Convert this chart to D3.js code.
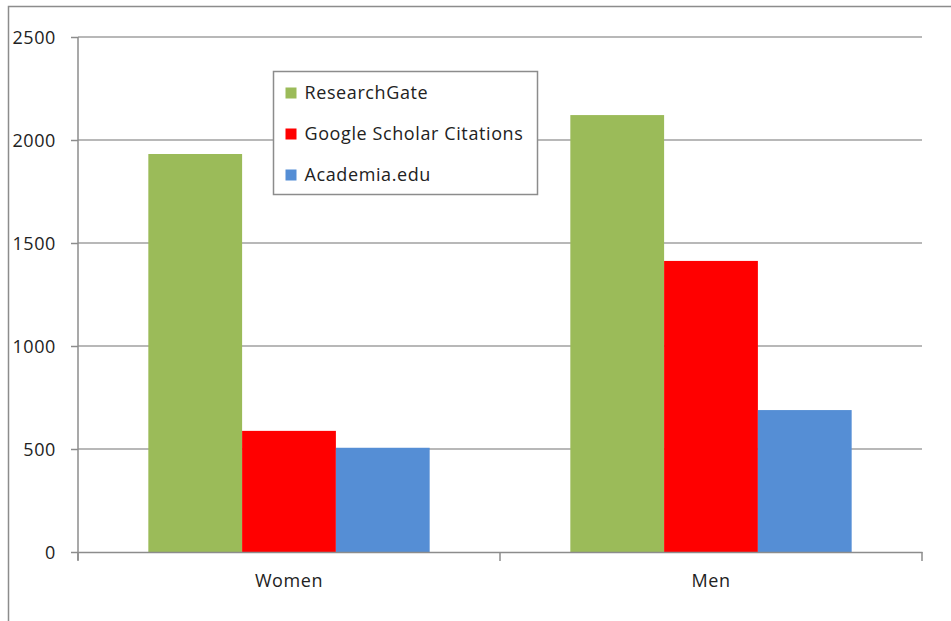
<!DOCTYPE html>
<html>
<head>
<meta charset="utf-8">
<script src="https://cdn.jsdelivr.net/npm/d3@7"></script>
<style>
  body { margin: 0; background: #fff; }
  svg text { font-family: "Open Sans", "DejaVu Sans", sans-serif; fill: #222; letter-spacing: 0.6px; }
</style>
</head>
<body>
<div id="chart"></div>
<script>
const categories = ['Women', 'Men'];
const seriesNames = ['ResearchGate', 'Google Scholar Citations', 'Academia.edu'];
const researchGate = [1932, 2121];
const googleScholar = [588, 1413];
const academia = [506, 689];
const yTicks = [0, 500, 1000, 1500, 2000, 2500];
const colors = ['#9bbb59', '#ff0000', '#558ed5'];

function drawChart() {
    const width = 951, height = 621;
    const margin = { top: 37, right: 29, bottom: 69, left: 78 };
    const values = [researchGate, googleScholar, academia];

    const svg = d3.select('#chart')
        .append('svg')
        .attr('width', width)
        .attr('height', height);

    // outer frame (only left and top edges visible in the crop)
    svg.append('path')
        .attr('d', `M8.5,${height}V6.5H${width}`)
        .attr('fill', 'none')
        .attr('stroke', '#8c8c8c')
        .attr('stroke-width', 1.5);

    const x = d3.scaleBand()
        .domain(categories)
        .range([margin.left, width - margin.right]);

    const y = d3.scaleLinear()
        .domain([0, 2500])
        .range([height - margin.bottom, margin.top]);

    const inner = d3.scaleBand()
        .domain(seriesNames)
        .range([0, x.bandwidth()])
        .paddingOuter(0.75);

    // gridlines
    svg.append('g')
        .selectAll('line')
        .data(yTicks.filter(d => d > 0))
        .enter()
        .append('line')
        .attr('x1', margin.left)
        .attr('x2', width - margin.right)
        .attr('y1', d => y(d))
        .attr('y2', d => y(d))
        .attr('stroke', '#a0a0a0')
        .attr('stroke-width', 1.5);

    // bars
    const groups = svg.append('g')
        .selectAll('g')
        .data(categories)
        .enter()
        .append('g')
        .attr('transform', d => `translate(${x(d)},0)`);

    groups.selectAll('rect')
        .data((c, i) => seriesNames.map((s, j) => ({ s, j, v: values[j][i] })))
        .enter()
        .append('rect')
        .attr('x', d => inner(d.s))
        .attr('width', inner.bandwidth())
        .attr('y', d => y(d.v))
        .attr('height', d => y(0) - y(d.v))
        .attr('fill', d => colors[d.j]);

    // y axis
    const yAxis = svg.append('g')
        .attr('transform', `translate(${margin.left},0)`)
        .call(d3.axisLeft(y).tickValues(yTicks).tickFormat(d3.format('d')).tickSize(7).tickPadding(15));
    yAxis.selectAll('line, path').attr('stroke', '#8c8c8c').attr('stroke-width', 1.5);
    yAxis.select('.domain').attr('d', `M0,${y(2500)}V${y(0) + 8}`);
    yAxis.selectAll('text').style('font-size', '18px').attr('dy', '0.35em');

    // x axis
    const xAxis = svg.append('g')
        .attr('transform', `translate(0,${y(0)})`)
        .call(d3.axisBottom(x).tickSize(0).tickPadding(22));
    xAxis.select('.domain').attr('stroke', '#8c8c8c').attr('stroke-width', 1.5);
    xAxis.selectAll('text').style('font-size', '18px');
    xAxis.append('g')
        .selectAll('line')
        .data([margin.left, x('Men'), width - margin.right])
        .enter()
        .append('line')
        .attr('x1', d => d).attr('x2', d => d)
        .attr('y1', 0).attr('y2', 9)
        .attr('stroke', '#8c8c8c')
        .attr('stroke-width', 1.5);

    // legend
    const legend = svg.append('g').attr('transform', 'translate(273.5,71.5)');
    legend.append('rect')
        .attr('width', 264)
        .attr('height', 123)
        .attr('fill', '#fff')
        .attr('stroke', '#8c8c8c')
        .attr('stroke-width', 1.5);

    const items = legend.selectAll('g.item')
        .data(seriesNames)
        .enter()
        .append('g')
        .attr('class', 'item')
        .attr('transform', (d, i) => `translate(12,${21 + i * 41})`);

    items.append('rect')
        .attr('y', -5)
        .attr('width', 11)
        .attr('height', 11)
        .attr('fill', (d, i) => colors[i]);

    items.append('text')
        .attr('x', 19)
        .attr('dy', '0.35em')
        .style('font-size', '18px')
        .text(d => d);
}

drawChart();
</script>
</body>
</html>
